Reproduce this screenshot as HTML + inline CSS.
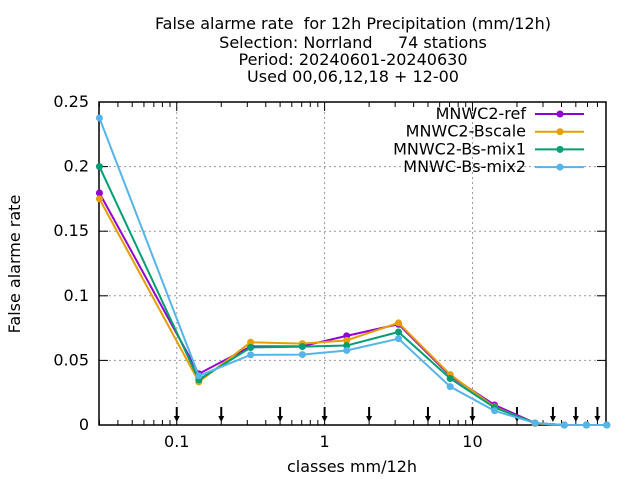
<!DOCTYPE html>
<html><head><meta charset="utf-8"><style>
body{margin:0;background:#fff}
svg text{font-family:"DejaVu Sans","Liberation Sans",sans-serif;fill:#000;white-space:pre}
</style></head><body>
<svg width="640" height="480" xmlns="http://www.w3.org/2000/svg" id="c">
<g font-size="16" text-anchor="middle">
<text x="353" y="29">False alarme rate  for 12h Precipitation (mm/12h)</text>
<text x="353" y="48">Selection: Norrland     74 stations</text>
<text x="353" y="65">Period: 20240601-20240630</text>
<text x="353" y="82">Used 00,06,12,18 + 12-00</text>
</g>
<text font-size="16" text-anchor="middle" transform="translate(20,264) rotate(-90)">False alarme rate</text>
<text font-size="16" text-anchor="middle" x="352" y="472">classes mm/12h</text>
<g id="grid"></g><g id="axes"></g><g id="series"></g><g id="legend"></g>
</svg>
<script>
const NS="http://www.w3.org/2000/svg";
const classes=[0.03,0.141,0.316,0.707,1.41,3.16,7.07,14.1,26.5,41.8,59,81];
const refVals=[0.1796,0.0396,0.0608,0.061,0.069,0.078,0.038,0.0155,0.0015,0,0,0];
const bscaleVals=[0.175,0.0334,0.064,0.063,0.0655,0.079,0.039,0.014,0.0012,0,0,0];
const mix1Vals=[0.2,0.035,0.060,0.0607,0.0615,0.072,0.036,0.0135,0.0015,0,0,0];
const mix2Vals=[0.2376,0.038,0.0543,0.0545,0.0577,0.0668,0.0297,0.011,0.0015,0,0,0];
const seriesNames=["MNWC2-ref","MNWC2-Bscale","MNWC2-Bs-mix1","MNWC-Bs-mix2"];
const colors=["#9400d3","#e69f00","#009e73","#56b4e9"];
const yTicks=[0,0.05,0.1,0.15,0.2,0.25];
const yTickLabels=["0","0.05","0.1","0.15","0.2","0.25"];
const xTicks=[0.1,1,10];
const xTickLabels=["0.1","1","10"];
const thresholds=[0.1,0.2,0.5,1,2,5,10,20,35,50,70];
const L=99,R=606,T=102,B=425,xmin=0.0298,xmax=80,ymax=0.25;
const X=v=>L+(Math.log10(v)-Math.log10(xmin))/(Math.log10(xmax)-Math.log10(xmin))*(R-L);
const Y=v=>B-v/ymax*(B-T);
function mk(t,a,p){const e=document.createElementNS(NS,t);for(const k in a)e.setAttribute(k,a[k]);p.appendChild(e);return e;}
const grid=document.getElementById('grid'),axes=document.getElementById('axes');
xTicks.forEach((v,i)=>{
 const g=mk('line',{x1:X(v),x2:X(v),y1:T,y2:B,stroke:'#999','stroke-dasharray':'2,3'},grid);
 
 
 const t=mk('text',{x:X(v),y:B+22,'font-size':16,'text-anchor':'middle'},axes);t.textContent=xTickLabels[i];
 
 
});
yTicks.forEach((v,i)=>{
 if(v>0&&v<ymax){const g=mk('line',{x1:L,x2:R,y1:Y(v),y2:Y(v),stroke:'#999','stroke-dasharray':'2,3'},grid);
 
 }
 mk('line',{x1:L,x2:L+9,y1:Y(v),y2:Y(v),stroke:'#000'},axes);
 mk('line',{x1:R,x2:R-9,y1:Y(v),y2:Y(v),stroke:'#000'},axes);
 const t=mk('text',{x:L-10,y:Y(v)+5,'font-size':16,'text-anchor':'end'},axes);t.textContent=yTickLabels[i];
 
 
});
for(let d=-2;d<=1;d++)for(let m=1;m<10;m++){const v=m*Math.pow(10,d);if(v<xmin||v>xmax)continue;const len=m==1?9:5;
 mk('line',{x1:X(v),x2:X(v),y1:B,y2:B-len,stroke:'#000'},axes);mk('line',{x1:X(v),x2:X(v),y1:T,y2:T+len,stroke:'#000'},axes);}
thresholds.forEach(v=>{const a=mk('g',{},axes);
 
 
 mk('line',{x1:X(v),x2:X(v),y1:B-18,y2:B-6,stroke:'#000','stroke-width':2},a);
 mk('path',{d:`M${X(v)-3},${B-9}L${X(v)+3},${B-9}L${X(v)},${B-3}Z`,fill:'#000'},a);});
mk('rect',{x:L,y:T,width:R-L,height:B-T,fill:'none',stroke:'#000','stroke-width':1.5},axes);
const ser=document.getElementById('series'),leg=document.getElementById('legend');
[refVals,bscaleVals,mix1Vals,mix2Vals].forEach((vals,s)=>{
 const g=mk('g',{},ser);
 
 
 mk('polyline',{points:vals.map((v,i)=>X(classes[i])+','+Y(v)).join(' '),fill:'none',stroke:colors[s],'stroke-width':2},g);
 vals.forEach((v,i)=>{const p=mk('circle',{cx:X(classes[i]),cy:Y(v),r:3.5,fill:colors[s]},g);
  
  });
 const ly=114+s*17.7;
 const e=mk('g',{},leg);
 
 
 const t=mk('text',{x:526,y:ly+5,'font-size':16,'text-anchor':'end'},e);t.textContent=seriesNames[s];
 mk('line',{x1:535,x2:584,y1:ly,y2:ly,stroke:colors[s],'stroke-width':2},e);
 mk('circle',{cx:560,cy:ly,r:3.5,fill:colors[s]},e);
});
</script>
</body></html>
